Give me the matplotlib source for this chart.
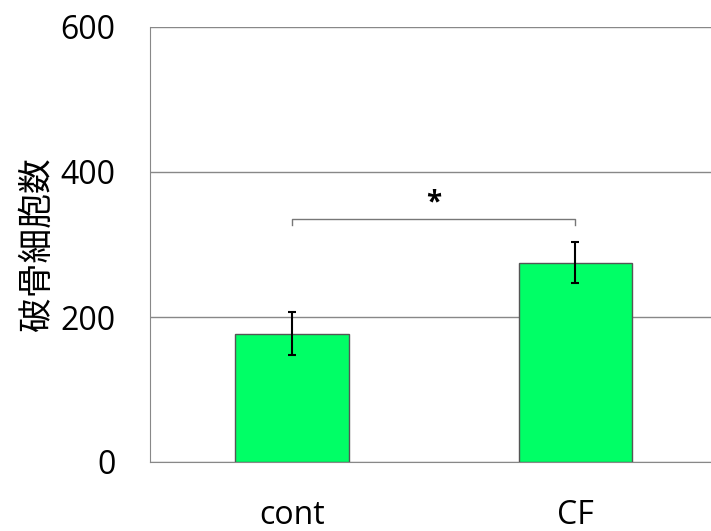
import matplotlib
matplotlib.use("Agg")
import matplotlib.pyplot as plt

# data
groups = ["cont", "CF"]
means = [177, 275]
errors = [30, 28]
yticks = [0, 200, 400, 600]
sig_label = "*"
sig_y = 335
ylabel = "破骨細胞数"

plt.rcParams["font.family"] = ["Open Sans", "DejaVu Sans"]

fig = plt.figure(figsize=(7.11, 5.31), dpi=100)
ax = fig.add_axes([150 / 711, 69 / 531, 561 / 711, 435 / 531])

x = list(range(len(groups)))
ax.bar(x, means, width=0.40, color="#00FF66", edgecolor="#555555", linewidth=1.0,
       zorder=3)
ax.errorbar(x, means, yerr=errors, fmt="none", ecolor="black", elinewidth=1.5,
            capsize=3, capthick=1.5, zorder=4)

# significance bracket
ax.plot([x[0], x[0], x[1], x[1]], [sig_y - 8, sig_y, sig_y, sig_y - 8],
        color="#777777", linewidth=1.0, zorder=3)
ax.text((x[0] + x[1]) / 2, sig_y + 2, sig_label, ha="center", va="bottom",
        fontsize=20, fontweight="bold")

ax.set_xlim(-0.502, 1.48)
ax.set_ylim(0, 600)
ax.set_yticks(yticks)
ax.set_xticks(x)
ax.set_xticklabels(groups)
ax.yaxis.grid(True, color="#888888", linewidth=1.0, zorder=0)
ax.set_axisbelow(True)
for side in ["top", "right"]:
    ax.spines[side].set_visible(False)
ax.spines["left"].set_color("#888888")
ax.spines["bottom"].set_color("#888888")
ax.tick_params(axis="both", length=0, labelsize=23, colors="black")
ax.tick_params(axis="y", pad=25)
ax.tick_params(axis="x", pad=27)

ax.set_ylabel(ylabel, fontsize=25, family=["Noto Sans CJK JP", "DejaVu Sans"],
              labelpad=4)

fig.savefig("out.png", dpi=100)
